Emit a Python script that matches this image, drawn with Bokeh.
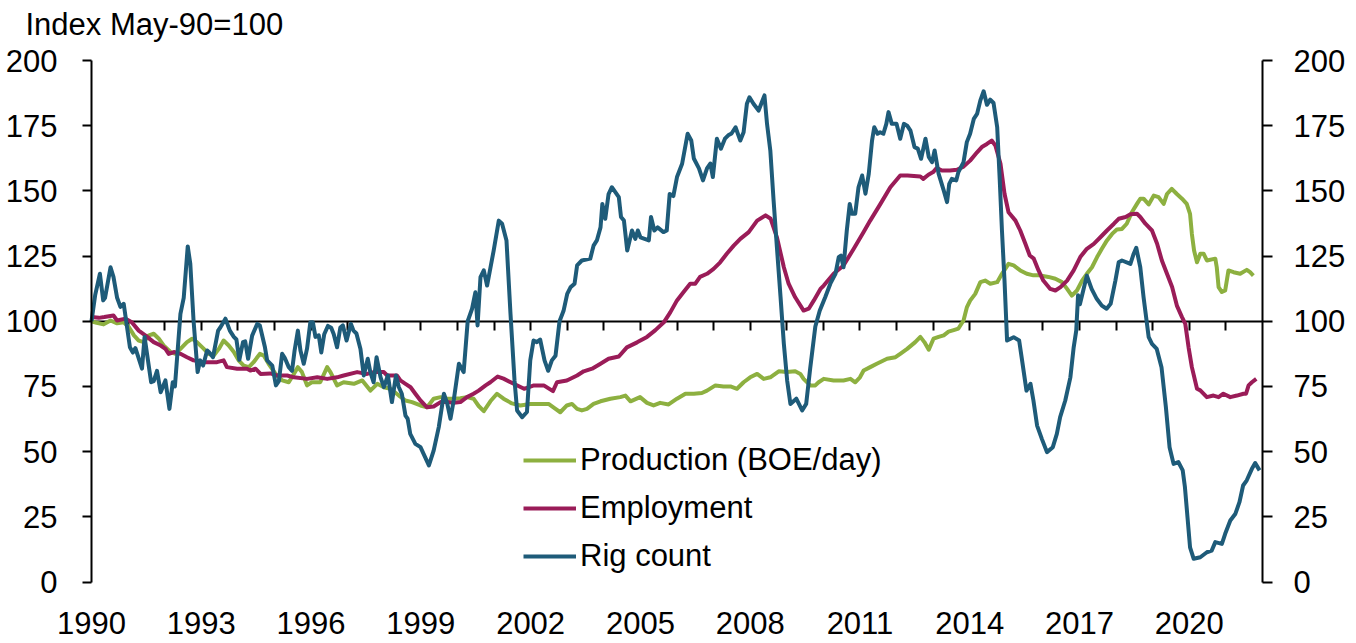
from bokeh.plotting import figure
from bokeh.models import Range1d, LinearAxis, FixedTicker, Legend, LegendItem, Label
from bokeh.embed import file_html
from bokeh.resources import INLINE

# ---------------- data (index, May-90 = 100) ----------------
rig_t = [1990.00, 1990.10, 1990.23, 1990.32, 1990.37, 1990.52, 1990.60, 1990.70, 1990.79, 1990.88,
         1991.05, 1991.13, 1991.20, 1991.38, 1991.45, 1991.63, 1991.70, 1991.79, 1991.89, 1992.02,
         1992.13, 1992.22, 1992.28, 1992.43, 1992.52, 1992.63, 1992.70, 1992.79, 1992.90, 1992.97,
         1993.05, 1993.16, 1993.22, 1993.32, 1993.46, 1993.52, 1993.66, 1993.78, 1993.89, 1993.96,
         1994.04, 1994.14, 1994.20, 1994.28, 1994.39, 1994.53, 1994.60, 1994.74, 1994.80, 1994.94,
         1995.04, 1995.12, 1995.21, 1995.28, 1995.39, 1995.48, 1995.55, 1995.64, 1995.71, 1995.80,
         1995.89, 1995.98, 1996.05, 1996.12, 1996.21, 1996.28, 1996.36, 1996.46, 1996.55, 1996.62,
         1996.71, 1996.80, 1996.87, 1996.97, 1997.09, 1997.16, 1997.24, 1997.35, 1997.44, 1997.55,
         1997.62, 1997.71, 1997.79, 1997.90, 1997.99, 1998.10, 1998.21, 1998.32, 1998.40, 1998.48,
         1998.58, 1998.64, 1998.71, 1998.85, 1998.99, 1999.22, 1999.35, 1999.49, 1999.63, 1999.72,
         1999.81, 1999.90, 2000.04, 2000.17, 2000.28, 2000.40, 2000.49, 2000.55, 2000.63, 2000.72,
         2000.81, 2000.99, 2001.13, 2001.22, 2001.34, 2001.45, 2001.56, 2001.63, 2001.77, 2001.90,
         2001.99, 2002.08, 2002.17, 2002.26, 2002.38, 2002.48, 2002.58, 2002.68, 2002.79, 2002.90,
         2003.00, 2003.09, 2003.20, 2003.27, 2003.40, 2003.63, 2003.72, 2003.81, 2003.91, 2003.96,
         2004.04, 2004.13, 2004.22, 2004.41, 2004.47, 2004.55, 2004.64, 2004.77, 2004.86, 2004.93,
         2005.00, 2005.23, 2005.29, 2005.38, 2005.47, 2005.63, 2005.72, 2005.80, 2005.90, 2006.00,
         2006.14, 2006.29, 2006.39, 2006.46, 2006.60, 2006.71, 2006.82, 2006.91, 2006.98, 2007.09,
         2007.20, 2007.31, 2007.40, 2007.49, 2007.60, 2007.73, 2007.82, 2007.91, 2007.98, 2008.09,
         2008.23, 2008.39, 2008.46, 2008.55, 2008.64, 2008.73, 2008.83, 2008.92, 2009.01, 2009.10,
         2009.26, 2009.42, 2009.53, 2009.64, 2009.78, 2009.90, 2010.05, 2010.19, 2010.33, 2010.42,
         2010.48, 2010.55, 2010.64, 2010.72, 2010.78, 2010.87, 2010.96, 2011.06, 2011.15, 2011.24,
         2011.33, 2011.39, 2011.48, 2011.55, 2011.64, 2011.72, 2011.78, 2011.87, 2012.00, 2012.10,
         2012.20, 2012.29, 2012.38, 2012.49, 2012.58, 2012.67, 2012.79, 2012.88, 2012.97, 2013.04,
         2013.15, 2013.29, 2013.38, 2013.44, 2013.51, 2013.63, 2013.69, 2013.83, 2013.92, 2014.01,
         2014.11, 2014.20, 2014.29, 2014.38, 2014.47, 2014.56, 2014.65, 2014.75, 2014.82, 2014.88,
         2014.95, 2015.02, 2015.20, 2015.35, 2015.43, 2015.55, 2015.66, 2015.74, 2015.84, 2015.97,
         2016.11, 2016.27, 2016.38, 2016.47, 2016.61, 2016.75, 2016.84, 2016.91, 2016.96, 2017.01,
         2017.20, 2017.33, 2017.47, 2017.61, 2017.74, 2017.85, 2017.98, 2018.07, 2018.16, 2018.39,
         2018.48, 2018.55, 2018.66, 2018.75, 2018.89, 2018.98, 2019.11, 2019.24, 2019.36, 2019.46,
         2019.57, 2019.70, 2019.82, 2019.88, 2019.95, 2020.02, 2020.12, 2020.30, 2020.48, 2020.61,
         2020.71, 2020.89, 2020.98, 2021.12, 2021.26, 2021.37, 2021.47, 2021.57, 2021.71, 2021.80,
         2021.92]
rig_v = [100.0, 110.0, 118.2, 108.0, 109.0, 120.7, 117.0, 109.0, 105.5, 106.7,
         90.0, 88.0, 89.7, 81.8, 94.0, 76.6, 77.0, 81.0, 72.8, 77.3,
         66.4, 76.6, 75.0, 102.8, 109.0, 128.7, 122.0, 100.0, 80.5, 85.0,
         83.0, 88.8, 88.0, 86.2, 96.4, 97.6, 101.0, 96.4, 94.0, 93.0,
         85.2, 92.0, 92.3, 85.6, 94.5, 99.0, 98.4, 90.0, 85.0, 83.0,
         75.4, 77.0, 87.5, 86.0, 82.4, 81.0, 88.8, 96.4, 88.8, 83.7,
         89.5, 99.6, 99.6, 94.0, 94.6, 88.0, 95.0, 98.2, 97.5, 95.0,
         90.0, 97.6, 98.4, 92.6, 99.0, 96.4, 95.3, 89.4, 79.2, 85.6,
         80.5, 76.6, 86.2, 78.5, 74.7, 79.2, 69.0, 79.2, 74.7, 72.2,
         63.8, 62.6, 56.8, 53.0, 51.7, 44.7, 50.4, 59.4, 72.2, 68.5,
         62.6, 69.8, 83.7, 80.5, 100.0, 104.8, 111.1, 98.4, 116.9, 119.5,
         113.7, 127.1, 138.6, 137.4, 131.0, 102.8, 77.3, 65.8, 63.2, 65.2,
         85.0, 92.6, 92.0, 93.0, 85.0, 81.0, 85.0, 86.8, 100.0, 104.0,
         110.5, 113.0, 114.4, 121.4, 123.3, 124.0, 129.0, 131.0, 136.0, 145.0,
         139.3, 148.8, 151.4, 147.6, 140.0, 138.6, 127.1, 134.8, 131.6, 134.8,
         132.2, 131.0, 140.0, 134.8, 136.0, 134.2, 134.8, 148.8, 148.0, 155.3,
         160.4, 171.9, 169.3, 162.4, 158.6, 154.0, 158.6, 160.5, 155.3, 170.0,
         166.2, 170.0, 171.3, 172.0, 174.4, 169.3, 172.5, 183.4, 185.9, 183.4,
         180.8, 186.6, 175.7, 165.5, 146.3, 128.4, 109.2, 91.3, 77.3, 68.3,
         70.3, 65.8, 68.3, 82.0, 98.0, 104.0, 109.2, 114.4, 118.2, 124.6,
         125.2, 120.7, 134.8, 145.0, 141.2, 141.2, 151.4, 155.9, 148.9, 156.5,
         169.3, 174.4, 171.9, 172.5, 171.9, 175.7, 180.2, 175.7, 175.7, 170.0,
         175.7, 175.0, 173.1, 166.8, 166.2, 162.3, 170.0, 163.0, 161.0, 165.5,
         156.5, 150.1, 145.7, 152.7, 154.6, 154.0, 157.2, 161.0, 168.7, 171.9,
         177.6, 179.5, 184.7, 188.2, 183.0, 185.0, 183.7, 174.4, 154.0, 134.8,
         115.6, 92.6, 93.9, 92.6, 85.0, 73.4, 76.0, 69.6, 60.0, 54.9,
         49.8, 51.7, 56.8, 63.2, 69.6, 78.5, 90.0, 96.4, 110.0, 106.5,
         117.5, 112.4, 108.6, 106.0, 104.8, 106.7, 115.6, 122.6, 123.3, 122.0,
         125.9, 128.2, 120.7, 109.2, 93.9, 91.3, 89.4, 82.4, 67.0, 51.7,
         45.3, 46.0, 42.8, 36.4, 24.9, 13.3, 8.9, 9.5, 11.4, 12.0,
         15.3, 14.6, 18.5, 23.6, 26.2, 30.6, 37.0, 39.0, 43.4, 45.6,
         42.8]

emp_t = [1990.00, 1990.20, 1990.35, 1990.60, 1990.70, 1990.93, 1991.10, 1991.29, 1991.47, 1991.70,
         1991.89, 1992.02, 1992.11, 1992.25, 1992.43, 1992.61, 1992.79, 1993.07, 1993.43, 1993.61,
         1993.70, 1993.98, 1994.25, 1994.34, 1994.48, 1994.62, 1994.89, 1995.07, 1995.35, 1995.53,
         1995.89, 1996.17, 1996.44, 1996.71, 1996.89, 1997.26, 1997.53, 1997.71, 1997.99, 1998.08,
         1998.35, 1998.44, 1998.58, 1998.72, 1998.85, 1998.99, 1999.17, 1999.35, 1999.54, 1999.72,
         1999.90, 2000.08, 2000.26, 2000.44, 2000.58, 2000.77, 2000.90, 2001.10, 2001.26, 2001.54,
         2001.82, 2002.09, 2002.36, 2002.61, 2002.72, 2002.99, 2003.27, 2003.45, 2003.68, 2003.91,
         2004.13, 2004.41, 2004.63, 2004.91, 2005.18, 2005.41, 2005.64, 2005.82, 2006.00, 2006.18,
         2006.36, 2006.50, 2006.63, 2006.82, 2007.00, 2007.18, 2007.36, 2007.55, 2007.73, 2007.96,
         2008.19, 2008.42, 2008.56, 2008.73, 2008.92, 2009.05, 2009.23, 2009.46, 2009.60, 2009.74,
         2009.92, 2010.01, 2010.28, 2010.55, 2010.83, 2011.10, 2011.28, 2011.56, 2011.83, 2012.10,
         2012.30, 2012.65, 2012.73, 2012.87, 2013.00, 2013.10, 2013.24, 2013.46, 2013.65, 2013.83,
         2014.01, 2014.20, 2014.33, 2014.47, 2014.60, 2014.70, 2014.84, 2014.95, 2015.06, 2015.25,
         2015.38, 2015.52, 2015.64, 2015.75, 2015.88, 2016.01, 2016.20, 2016.34, 2016.48, 2016.66,
         2016.84, 2017.02, 2017.20, 2017.39, 2017.57, 2017.75, 2017.94, 2018.07, 2018.26, 2018.39,
         2018.57, 2018.66, 2018.80, 2018.98, 2019.12, 2019.25, 2019.39, 2019.53, 2019.66, 2019.80,
         2019.89, 2019.98, 2020.07, 2020.21, 2020.30, 2020.48, 2020.66, 2020.80, 2020.93, 2021.12,
         2021.30, 2021.48, 2021.55, 2021.62, 2021.71, 2021.83]
emp_v = [101.6, 101.3, 101.6, 102.2, 100.3, 101.0, 99.6, 96.4, 94.6, 92.0,
         90.7, 89.4, 87.5, 88.2, 87.5, 86.2, 85.0, 84.3, 84.3, 85.0,
         82.4, 81.8, 81.8, 81.1, 81.8, 79.8, 80.0, 79.2, 79.2, 78.5,
         77.9, 78.5, 77.9, 78.5, 79.2, 80.5, 79.8, 80.5, 80.5, 79.2,
         79.2, 77.3, 76.0, 74.7, 72.2, 69.6, 67.0, 67.3, 69.0, 69.0,
         68.7, 69.0, 70.9, 72.2, 73.4, 75.4, 76.6, 78.8, 78.0, 76.0,
         74.1, 75.4, 75.4, 73.2, 76.6, 77.3, 79.2, 80.8, 81.8, 83.7,
         85.6, 86.5, 90.0, 91.9, 94.0, 96.6, 99.6, 103.5, 108.0, 111.2,
         114.4, 114.4, 117.0, 118.2, 120.1, 122.6, 125.9, 129.0, 131.6, 134.2,
         138.6, 140.6, 139.3, 132.2, 120.7, 114.4, 109.2, 104.1, 104.8, 108.0,
         112.4, 113.7, 118.2, 121.4, 127.8, 134.2, 138.6, 145.0, 151.4, 155.9,
         155.9, 155.5, 154.6, 156.2, 157.2, 158.8, 157.8, 157.8, 158.1, 159.3,
         161.6, 164.8, 166.8, 168.0, 169.3, 167.4, 160.4, 148.9, 141.8, 138.6,
         134.8, 129.7, 125.2, 124.0, 119.5, 115.6, 112.4, 111.8, 113.1, 115.6,
         119.5, 124.6, 127.8, 129.7, 132.2, 134.8, 137.4, 139.3, 140.0, 141.0,
         141.2, 140.0, 137.4, 134.8, 129.7, 123.3, 118.2, 113.1, 106.0, 101.6,
         99.0, 90.0, 82.4, 74.1, 73.5, 70.9, 71.5, 70.9, 72.2, 70.9,
         71.5, 72.2, 72.2, 75.4, 76.6, 77.9]

prod_t = [1990.00, 1990.14, 1990.33, 1990.52, 1990.70, 1990.88, 1991.02, 1991.16, 1991.29, 1991.43,
          1991.57, 1991.70, 1991.84, 1991.97, 1992.16, 1992.30, 1992.43, 1992.61, 1992.75, 1992.88,
          1993.07, 1993.20, 1993.34, 1993.48, 1993.61, 1993.75, 1993.89, 1994.02, 1994.16, 1994.30,
          1994.43, 1994.60, 1994.71, 1994.84, 1995.03, 1995.21, 1995.39, 1995.53, 1995.64, 1995.75,
          1995.89, 1996.02, 1996.25, 1996.44, 1996.53, 1996.71, 1996.89, 1997.17, 1997.40, 1997.62,
          1997.81, 1997.99, 1998.17, 1998.40, 1998.58, 1998.76, 1998.99, 1999.17, 1999.35, 1999.54,
          1999.72, 1999.90, 2000.08, 2000.26, 2000.44, 2000.58, 2000.72, 2000.90, 2001.08, 2001.26,
          2001.49, 2001.72, 2001.99, 2002.26, 2002.49, 2002.68, 2002.81, 2002.99, 2003.13, 2003.27,
          2003.40, 2003.54, 2003.72, 2003.91, 2004.18, 2004.45, 2004.59, 2004.73, 2004.99, 2005.18,
          2005.36, 2005.54, 2005.77, 2006.00, 2006.23, 2006.46, 2006.68, 2006.82, 2007.05, 2007.27,
          2007.46, 2007.64, 2007.82, 2008.00, 2008.19, 2008.37, 2008.55, 2008.78, 2009.00, 2009.23,
          2009.37, 2009.46, 2009.64, 2009.78, 2009.87, 2010.01, 2010.28, 2010.55, 2010.74, 2010.87,
          2011.00, 2011.10, 2011.28, 2011.46, 2011.74, 2011.97, 2012.10, 2012.29, 2012.51, 2012.65,
          2012.76, 2012.88, 2013.01, 2013.15, 2013.29, 2013.42, 2013.56, 2013.69, 2013.83, 2013.92,
          2014.01, 2014.15, 2014.29, 2014.42, 2014.56, 2014.75, 2014.88, 2015.06, 2015.20, 2015.38,
          2015.56, 2015.74, 2015.92, 2016.15, 2016.34, 2016.52, 2016.66, 2016.79, 2016.93, 2017.07,
          2017.20, 2017.34, 2017.48, 2017.61, 2017.75, 2017.89, 2018.02, 2018.16, 2018.29, 2018.43,
          2018.57, 2018.66, 2018.75, 2018.89, 2019.03, 2019.16, 2019.30, 2019.39, 2019.52, 2019.66,
          2019.80, 2019.93, 2020.02, 2020.07, 2020.13, 2020.21, 2020.30, 2020.39, 2020.48, 2020.71,
          2020.75, 2020.80, 2020.89, 2020.98, 2021.07, 2021.21, 2021.39, 2021.57, 2021.66, 2021.75]
prod_v = [100.0, 99.4, 98.8, 100.3, 99.2, 99.6, 97.8, 94.6, 92.6, 92.0,
          94.6, 95.2, 93.3, 90.7, 88.2, 87.5, 89.4, 92.0, 93.3, 92.0,
          89.4, 87.5, 86.8, 89.4, 92.6, 90.7, 88.2, 85.0, 83.0, 82.4,
          84.3, 87.5, 86.8, 83.7, 79.8, 77.3, 76.6, 79.8, 82.4, 80.5,
          75.4, 76.6, 76.6, 82.4, 80.5, 75.4, 76.6, 76.0, 77.3, 73.4,
          76.0, 74.7, 74.1, 71.5, 69.6, 69.0, 67.7, 67.0, 70.3, 70.9,
          70.3, 70.3, 70.5, 70.9, 70.3, 67.5, 65.5, 69.3, 72.2, 70.3,
          68.5, 67.7, 68.3, 68.3, 68.3, 66.4, 65.1, 67.7, 68.3, 66.4,
          65.8, 66.4, 68.3, 69.3, 70.3, 70.9, 71.5, 69.3, 70.9, 68.7,
          67.7, 68.7, 68.1, 70.3, 72.2, 72.2, 72.5, 73.4, 75.4, 75.0,
          75.0, 74.1, 76.6, 78.5, 79.8, 77.9, 78.5, 80.8, 80.5, 80.8,
          79.8, 77.9, 75.4, 75.4, 76.6, 77.9, 77.3, 77.3, 77.9, 76.6,
          78.5, 81.1, 82.4, 83.7, 85.6, 86.2, 87.5, 89.4, 92.0, 94.0,
          92.0, 89.1, 93.3, 94.0, 94.6, 96.0, 96.6, 97.2, 100.3, 105.3,
          107.9, 110.5, 115.0, 115.6, 114.4, 115.0, 118.2, 122.0, 121.4, 119.5,
          118.2, 117.6, 117.6, 117.0, 116.3, 115.0, 112.4, 109.8, 111.8, 115.6,
          118.2, 120.7, 124.6, 127.8, 131.0, 133.5, 135.2, 135.4, 137.4, 141.8,
          145.0, 147.0, 147.0, 144.8, 148.2, 147.6, 145.0, 148.8, 150.8, 148.8,
          147.0, 145.0, 141.2, 133.5, 127.1, 122.6, 125.9, 125.9, 123.3, 124.0,
          120.7, 113.1, 111.2, 111.8, 119.5, 118.8, 118.2, 119.7, 118.8, 117.5]

series_names = ["Production (BOE/day)", "Employment", "Rig count"]
y_ticks = [0, 25, 50, 75, 100, 125, 150, 175, 200]
x_label_years = [1990, 1993, 1996, 1999, 2002, 2005, 2008, 2011, 2014, 2017, 2020]
x_minor_years = list(range(1991, 2022))
x_start, x_end = 1990, 2022
y_axis_lo, y_axis_hi = 0, 200
title_text = "Index May-90=100"

# ---------------- styling / layout ----------------
FONT = "Liberation Sans"
FS = "31px"
GREEN = "#8DB040"
CRIMSON = "#9A1C58"
BLUE = "#1E5B79"
LW = 4

W, H = 1356, 643               # canvas = whole window (the page has no margin)
AX_LEFT, AX_RIGHT = 91, 1262   # px positions of the 1990 and 2022 axes
AX_TOP, AX_BOTTOM = 60, 581.5  # px positions of 200 and 0
PX_YEAR = (AX_RIGHT - AX_LEFT) / (x_end - x_start)
PX_UNIT = (AX_BOTTOM - AX_TOP) / (y_axis_hi - y_axis_lo)
x_lo = x_start - AX_LEFT / PX_YEAR
x_hi = x_lo + W / PX_YEAR
y_hi = y_axis_hi + AX_TOP / PX_UNIT
y_lo = y_hi - H / PX_UNIT

# the frame fills the canvas; value axes are pinned at 1990 / 2022 and bounded 0..200
p = figure(frame_width=W, frame_height=H, output_backend="svg", toolbar_location=None,
           x_range=Range1d(x_lo, x_hi), y_range=Range1d(y_lo, y_hi),
           x_axis_location=None, y_axis_location=None,
           min_border_left=0, min_border_right=0, min_border_top=0, min_border_bottom=0)
p.outline_line_color = None
p.xgrid.visible = False
p.ygrid.visible = False
p.background_fill_color = "white"
p.border_fill_color = "white"


def style_y(ax, standoff, tick_out):
    ax.ticker = FixedTicker(ticks=y_ticks)
    ax.bounds = (y_axis_lo, y_axis_hi)
    ax.axis_line_color = "black"
    ax.axis_line_width = 2
    ax.major_tick_line_color = "black"
    ax.major_tick_line_width = 2
    ax.major_tick_out = tick_out
    ax.major_tick_in = 0
    ax.minor_tick_line_color = None
    ax.major_label_text_font = FONT
    ax.major_label_text_font_size = FS
    ax.major_label_text_color = "black"
    ax.major_label_standoff = standoff


left = LinearAxis(fixed_location=x_start)
style_y(left, 25, 9)
p.add_layout(left, "left")
right = LinearAxis(fixed_location=x_end)
style_y(right, 21, 10)
p.add_layout(right, "right")

# axis line at 100 with yearly ticks
ax100 = LinearAxis(fixed_location=100, ticker=FixedTicker(ticks=x_minor_years),
                   bounds=(x_start, x_end))
ax100.axis_line_color = "black"
ax100.axis_line_width = 2
ax100.major_tick_line_color = "black"
ax100.major_tick_line_width = 2
ax100.major_tick_out = 9
ax100.major_tick_in = 0
ax100.minor_tick_line_color = None
ax100.major_label_text_alpha = 0
ax100.major_label_text_font_size = "1px"
ax100.level = "underlay"
p.add_layout(ax100, "below")

# year labels under the 0 line
axyears = LinearAxis(fixed_location=y_axis_lo, ticker=FixedTicker(ticks=x_label_years))
axyears.axis_line_color = None
axyears.major_tick_line_color = None
axyears.minor_tick_line_color = None
axyears.major_tick_out = 0
axyears.major_tick_in = 0
axyears.major_label_text_font = FONT
axyears.major_label_text_font_size = FS
axyears.major_label_text_color = "black"
axyears.major_label_standoff = 30
p.add_layout(axyears, "below")

r_prod = p.line(prod_t, prod_v, line_color=GREEN, line_width=LW, line_join="round")
r_emp = p.line(emp_t, emp_v, line_color=CRIMSON, line_width=LW, line_join="round")
r_rig = p.line(rig_t, rig_v, line_color=BLUE, line_width=LW, line_join="round")

legend = Legend(items=[LegendItem(label=series_names[0], renderers=[r_prod]),
                       LegendItem(label=series_names[1], renderers=[r_emp]),
                       LegendItem(label=series_names[2], renderers=[r_rig])],
                location=(523, 67), orientation="vertical",
                border_line_color=None, background_fill_alpha=0,
                label_text_font=FONT, label_text_font_size=FS, label_text_color="black",
                glyph_width=53, glyph_height=40, label_height=40, label_standoff=4,
                spacing=8, padding=0, margin=0)
p.add_layout(legend)

# unit note above the left axis
title = Label(x=x_start - 66 / PX_YEAR, y=y_axis_hi + 36 / PX_UNIT, text=title_text,
              text_font=FONT, text_font_size=FS, text_color="black",
              text_baseline="alphabetic", text_align="left")
p.add_layout(title)

open("out.html", "w").write(file_html(p, INLINE))
